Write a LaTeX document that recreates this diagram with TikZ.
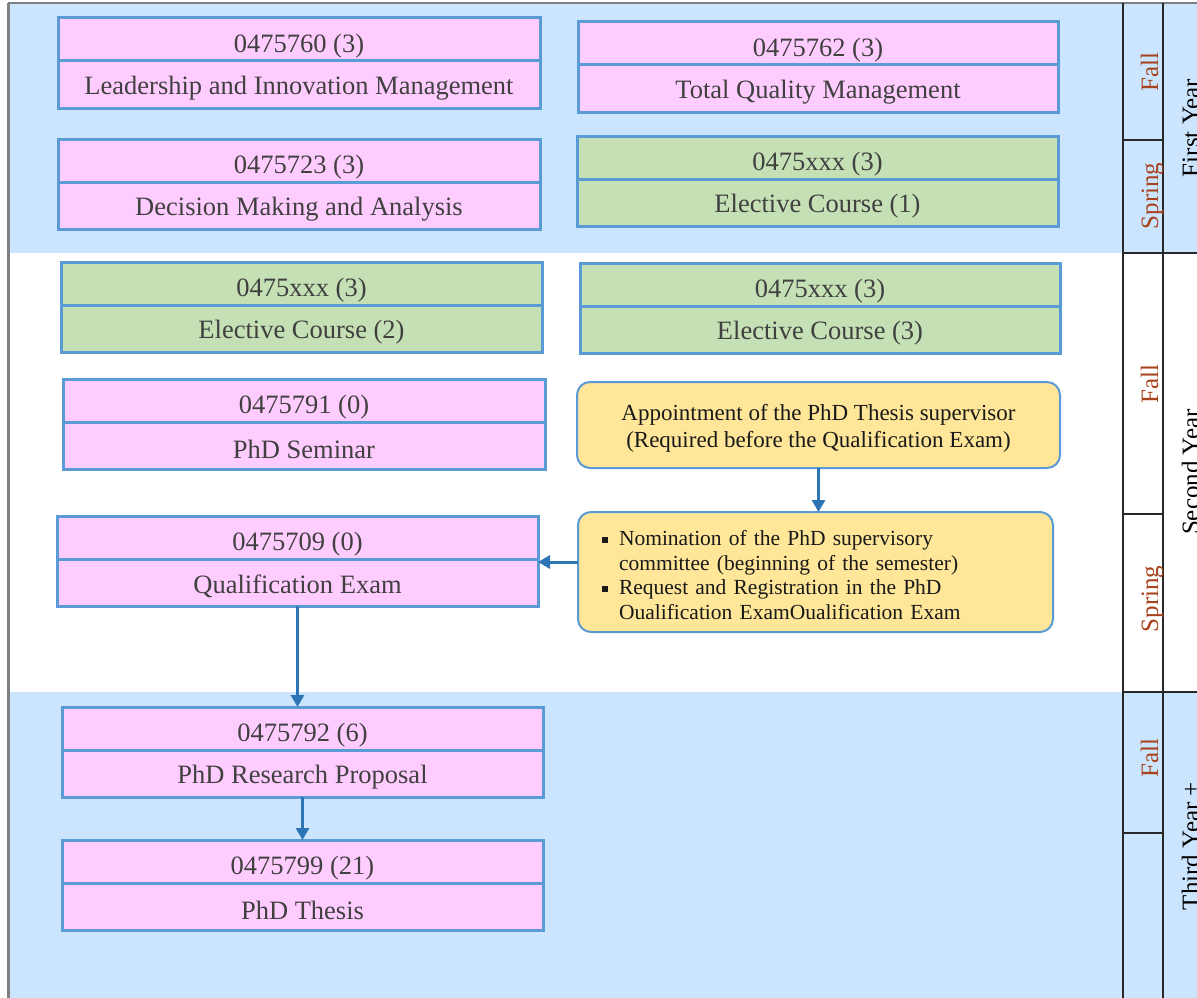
\documentclass[tikz,border=0pt]{standalone}
\usepackage{fontspec}
\setmainfont{Liberation Serif}
\usetikzlibrary{arrows.meta}
\definecolor{bandblue}{RGB}{204,229,255}
\definecolor{pinkfill}{RGB}{255,204,255}
\definecolor{greenfill}{RGB}{197,224,180}
\definecolor{yellowfill}{RGB}{255,230,153}
\definecolor{boxline}{RGB}{91,155,213}
\definecolor{arrowblue}{RGB}{46,117,182}
\definecolor{semcolor}{RGB}{168,66,28}
\definecolor{txt}{RGB}{64,64,64}
\definecolor{gridcol}{RGB}{40,40,40}
\definecolor{framecol}{RGB}{128,128,128}
\tikzset{
  part/.style={draw=boxline, line width=3pt, inner sep=0pt, outer sep=0pt, text=txt,
    font=\fontsize{26.5}{30}\selectfont},
  note/.style={draw=boxline, line width=2pt, fill=yellowfill, rounded corners=13pt,
    inner sep=0pt, outer sep=0pt, text=black!90},
  arr/.style={draw=arrowblue, line width=3pt, -{Triangle[width=13pt,length=12pt]}},
  gridline/.style={draw=gridcol, line width=1.3pt},
  semlabel/.style={rotate=90, anchor=base, inner sep=0pt, text=semcolor,
    font=\fontsize{25}{28}\selectfont},
  yearlabel/.style={rotate=90, anchor=base, inner sep=0pt, text=black,
    font=\fontsize{25}{28}\selectfont}
}
% name, left, top, width, code, title, fill
\newcommand\crs[7]{%
  \node[part, fill=#7, minimum width=#4, minimum height=43pt, anchor=north west] (#1c) at (#2,#3) {\raisebox{-6.5pt}[\height][\depth]{#5}};
  \node[part, fill=#7, minimum width=#4, minimum height=47pt, anchor=north] (#1t) at (#1c.south) {\raisebox{-4pt}[\height][\depth]{#6}};
}
\begin{document}
\begin{tikzpicture}[x=1pt,y=-1pt]
\useasboundingbox (0,0) rectangle (1197,998);
% background bands
\fill[white] (0,0) rectangle (1197,998);
\fill[bandblue] (7,4) rectangle (1197,253);
\fill[bandblue] (7,692) rectangle (1197,998);
% frame
\draw[framecol, line width=2.5pt] (8.5,998) -- (8.5,3);
\draw[framecol, line width=1.2pt] (8,3) -- (1197,3);
% right grid
\draw[gridline] (1123,3) -- (1123,998);
\draw[gridline] (1163,3) -- (1163,998);
\draw[gridline] (1123,253) -- (1197,253);
\draw[gridline] (1123,692) -- (1197,692);
\draw[gridline] (1123,140) -- (1163,140);
\draw[gridline] (1123,514) -- (1163,514);
\draw[gridline] (1123,833) -- (1163,833);
% semester labels
\node[semlabel] (s1) at (1158,72) {Fall};
\node[semlabel] (s2) at (1158,196) {Spring};
\node[semlabel] (s3) at (1158,384) {Fall};
\node[semlabel] (s4) at (1158,599) {Spring};
\node[semlabel] (s5) at (1158,758) {Fall};
% year labels (cut by the right edge, as in the reference)
\node[yearlabel] (y1) at (1199,128) {First Year};
\node[yearlabel] (y2) at (1199,472) {Second Year};
\node[yearlabel] (y3) at (1199,846) {Third Year +};
% courses
\crs{B1}{58}{18}{482pt}{0475760 (3)}{Leadership and Innovation Management}{pinkfill}
\crs{B2}{578}{22}{480pt}{0475762 (3)}{Total Quality Management}{pinkfill}
\crs{B3}{58}{139}{482pt}{0475723 (3)}{Decision Making and Analysis}{pinkfill}
\crs{B4}{577}{136}{481pt}{0475xxx (3)}{Elective Course (1)}{greenfill}
\crs{B5}{61}{262}{481pt}{0475xxx (3)}{Elective Course (2)}{greenfill}
\crs{B6}{580}{263}{480pt}{0475xxx (3)}{Elective Course (3)}{greenfill}
\crs{B7}{63}{379}{482pt}{0475791 (0)}{PhD Seminar}{pinkfill}
\crs{B8}{57}{516}{481pt}{0475709 (0)}{Qualification Exam}{pinkfill}
\crs{B9}{62}{707}{481pt}{0475792 (6)}{PhD Research Proposal}{pinkfill}
\crs{B10}{62}{840}{481pt}{0475799 (21)}{PhD Thesis}{pinkfill}
% notes
\node[note, minimum width=483pt, minimum height=86pt,
  font=\fontsize{23}{27.5}\selectfont] (Y1) at (818.5,425)
  {\raisebox{-3.5pt}[\height][\depth]{\begin{tabular}{@{}c@{}}
  Appointment of the PhD Thesis supervisor\\(Required before the Qualification Exam)
  \end{tabular}}};
\node[note, minimum width=475pt, minimum height=120pt, text width=427pt, inner xsep=24pt,
  align=left, font=\fontsize{21.5}{24.7}\selectfont] (Y2) at (815.5,572)
  {\raisebox{-5.5pt}[\height][\depth]{\begin{tabular}{@{}l@{\hspace{11pt}}l@{}}
  \raisebox{2.5pt}{\rule{6pt}{6pt}} & Nomination of the PhD supervisory\\
  & committee (beginning of the semester)\\
  \raisebox{2.5pt}{\rule{6pt}{6pt}} & Request and Registration in the PhD\\
  & Oualification ExamOualification Exam
  \end{tabular}}};
% connectors
\draw[arr] (Y1.south) -- (Y1.south |- Y2.north);
\path ([yshift=10pt]Y2.west) coordinate (qa);
\draw[arr] (qa) -- (qa -| B8t.east);
\draw[arr] (B8t.south) -- (B8t.south |- B9c.north);
\draw[arr] (B9t.south) -- (B10c.north);
\end{tikzpicture}
\end{document}
